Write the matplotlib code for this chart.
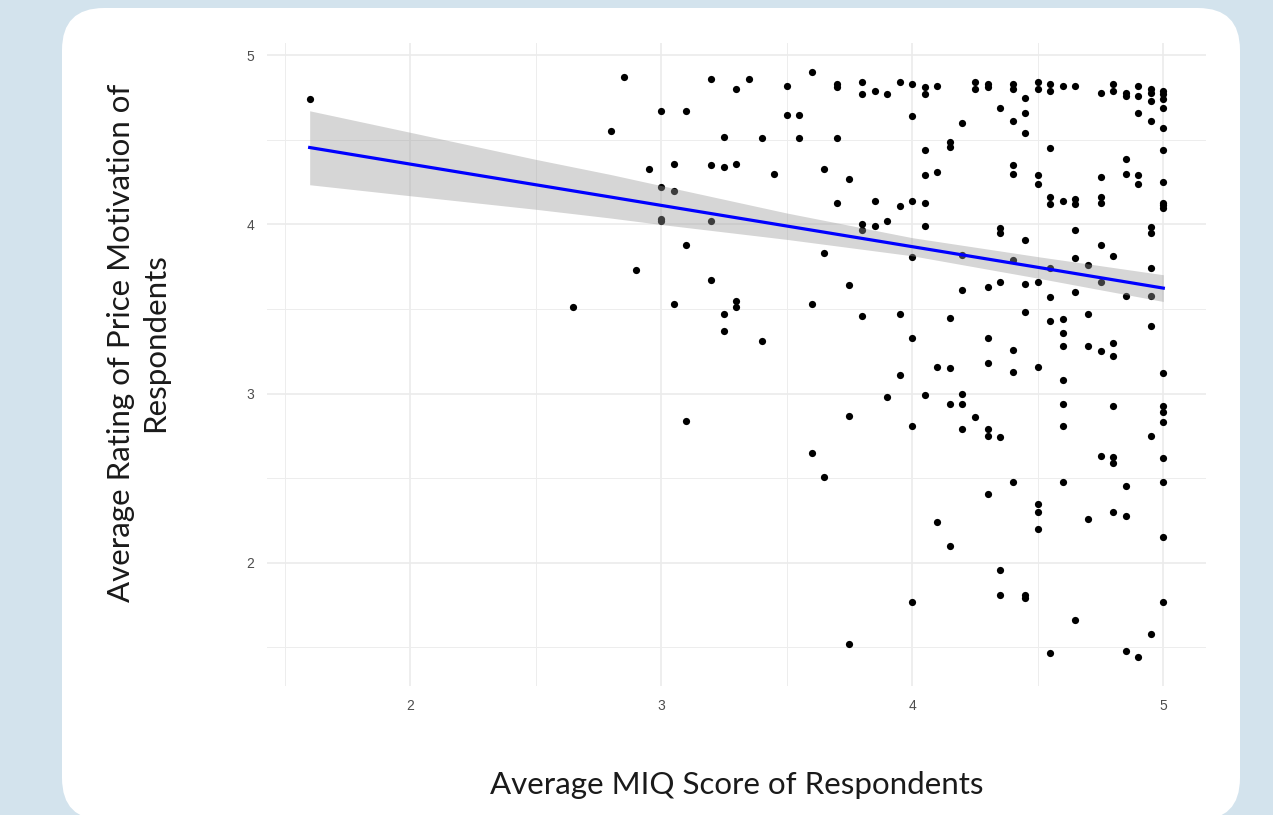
import matplotlib
matplotlib.use("Agg")
import matplotlib.pyplot as plt
import numpy as np
from matplotlib.patches import FancyBboxPatch

# ── Data (MIQ score vs price-motivation rating) ───────────────────────────────
miq_score = (
    [1.60, 2.65, 2.80, 2.85, 2.90, 2.95]
    + [3.00] * 4 + [3.05] * 3 + [3.10] * 3 + [3.20] * 4 + [3.25] * 4
    + [3.30] * 4 + [3.35] + [3.40] * 2 + [3.45] + [3.50] * 2 + [3.55] * 2
    + [3.60] * 3 + [3.65] * 3 + [3.70] * 4 + [3.75] * 4 + [3.80] * 5
    + [3.85] * 3 + [3.90] * 3 + [3.95] * 4 + [4.00] * 7 + [4.05] * 7
    + [4.10] * 4 + [4.15] * 6 + [4.20] * 6 + [4.25] * 3 + [4.30] * 8
    + [4.35] * 7 + [4.40] * 9 + [4.45] * 8 + [4.50] * 9 + [4.55] * 9
    + [4.60] * 9 + [4.65] * 7 + [4.70] * 4 + [4.75] * 8 + [4.80] * 9
    + [4.85] * 8 + [4.90] * 6 + [4.95] * 11 + [5.00] * 18
)
price_rating = [
    4.74, 3.51, 4.55, 4.87, 3.73, 4.33,
    4.67, 4.22, 4.03, 4.02,
    4.36, 4.20, 3.53,
    4.67, 3.88, 2.84,
    4.86, 4.35, 4.02, 3.67,
    4.52, 4.34, 3.47, 3.37,
    4.80, 4.36, 3.545, 3.515,
    4.86,
    4.51, 3.31,
    4.30,
    4.82, 4.65,
    4.65, 4.51,
    4.90, 3.53, 2.65,
    4.33, 3.83, 2.51,
    4.83, 4.81, 4.51, 4.13,
    4.27, 3.64, 2.87, 1.52,
    4.84, 4.77, 4.00, 3.97, 3.46,
    4.79, 4.14, 3.99,
    4.77, 4.02, 2.98,
    4.84, 4.11, 3.47, 3.11,
    4.83, 4.64, 4.14, 3.81, 3.33, 2.81, 1.77,
    4.81, 4.77, 4.44, 4.29, 4.13, 3.99, 2.99,
    4.82, 4.31, 3.16, 2.24,
    4.49, 4.46, 3.45, 3.15, 2.94, 2.10,
    4.60, 3.82, 3.61, 3.00, 2.94, 2.79,
    4.845, 4.80, 2.86,
    4.83, 4.81, 3.63, 3.33, 3.18, 2.79, 2.75, 2.41,
    4.69, 3.98, 3.95, 3.66, 2.745, 1.96, 1.81,
    4.83, 4.80, 4.61, 4.35, 4.30, 3.79, 3.26, 3.13, 2.48,
    4.75, 4.66, 4.54, 3.91, 3.65, 3.48, 1.81, 1.79,
    4.845, 4.80, 4.29, 4.24, 3.66, 3.16, 2.35, 2.30, 2.20,
    4.83, 4.79, 4.45, 4.16, 4.12, 3.74, 3.57, 3.43, 1.47,
    4.82, 4.14, 3.44, 3.36, 3.28, 3.08, 2.94, 2.81, 2.48,
    4.82, 4.15, 4.12, 3.97, 3.80, 3.60, 1.66,
    3.76, 3.47, 3.28, 2.26,
    4.78, 4.28, 4.16, 4.13, 3.88, 3.66, 3.25, 2.63,
    4.83, 4.79, 3.815, 3.30, 3.22, 2.93, 2.625, 2.59, 2.30,
    4.78, 4.76, 4.39, 4.30, 3.58, 2.455, 2.28, 1.48,
    4.82, 4.76, 4.66, 4.29, 4.24, 1.445,
    4.80, 4.78, 4.73, 4.61, 3.985, 3.95, 3.74, 3.58, 3.40, 2.75, 1.58,
    4.79, 4.77, 4.74, 4.69, 4.57, 4.44, 4.25, 4.13, 4.115, 4.10,
    3.12, 2.93, 2.89, 2.83, 2.62, 2.48, 2.15, 1.77,
]

# Linear-fit line and its 95 % band (many respondents
# overlap on the same dots, so the band can't be rebuilt from visible points).
smooth_x = [1.60, 2.00, 2.50, 2.80, 3.00, 3.50, 4.00, 4.50, 5.00]
smooth_fit = [4.455, 4.357, 4.235, 4.162, 4.113, 3.991, 3.869, 3.747, 3.624]
smooth_lower = [4.235, 4.170, 4.090, 4.038, 4.000, 3.912, 3.815, 3.683, 3.545]
smooth_upper = [4.672, 4.545, 4.385, 4.295, 4.230, 4.068, 3.922, 3.810, 3.703]

x_ticks = [2, 3, 4, 5]
y_ticks = [2, 3, 4, 5]
x_label = "Average MIQ Score of Respondents"
y_label = "Average Rating of Price Motivation of\nRespondents"

x = np.array(miq_score)
y = np.array(price_rating)

# ── Figure ────────────────────────────────────────────────────────────────────
W, H = 1273, 815
fig = plt.figure(figsize=(W / 100, H / 100), dpi=100)
fig.patch.set_facecolor("#d3e3ed")

bg = fig.add_axes([0, 0, 1, 1], zorder=0)
bg.set_xlim(0, W)
bg.set_ylim(H, 0)
bg.axis("off")
bg.add_patch(FancyBboxPatch((62, 8), 1178, 812,
                            boxstyle="round,pad=0,rounding_size=42",
                            facecolor="white", edgecolor="none"))

ax = fig.add_axes([267 / W, 1 - 686 / H, (1206 - 267) / W, (686 - 43) / H], zorder=1)
ax.set_facecolor("none")

ax.scatter(x, y, s=27, color="black", linewidths=0, zorder=2)
ax.fill_between(smooth_x, smooth_lower, smooth_upper, color="#999999",
                alpha=0.4, linewidth=0, zorder=3)
ax.plot(smooth_x, smooth_fit, color="#0000ff", lw=2.3, zorder=4)

xr = x.max() - x.min()
yr = y.max() - y.min()
ax.set_xlim(x.min() - 0.05 * xr, x.max() + 0.05 * xr)
ax.set_ylim(y.min() - 0.05 * yr, y.max() + 0.05 * yr)

ax.set_xticks(x_ticks)
ax.set_yticks(y_ticks)
ax.set_xticks([1.5, 2.5, 3.5, 4.5], minor=True)
ax.set_yticks([1.5, 2.5, 3.5, 4.5], minor=True)
ax.grid(which="major", color="#ebebeb", lw=1.2, zorder=0)
ax.grid(which="minor", color="#ededed", lw=0.7, zorder=0)
ax.set_axisbelow(True)
for sp in ax.spines.values():
    sp.set_visible(False)
ax.tick_params(which="both", length=0, colors="#4d4d4d", labelsize=10, pad=9)
for lab in ax.get_xticklabels() + ax.get_yticklabels():
    lab.set_fontfamily("Liberation Sans")

fig.text(737 / W, 1 - 785 / H, x_label, ha="center", va="center",
         fontsize=22.5, family="Lato", color="#1a1a1a")
fig.text(138 / W, 1 - 343 / H, y_label, ha="center", va="center",
         rotation=90, fontsize=22.5, family="Lato", color="#1a1a1a",
         linespacing=1.3, multialignment="center")

fig.savefig("out.png", dpi=100, facecolor=fig.get_facecolor())
